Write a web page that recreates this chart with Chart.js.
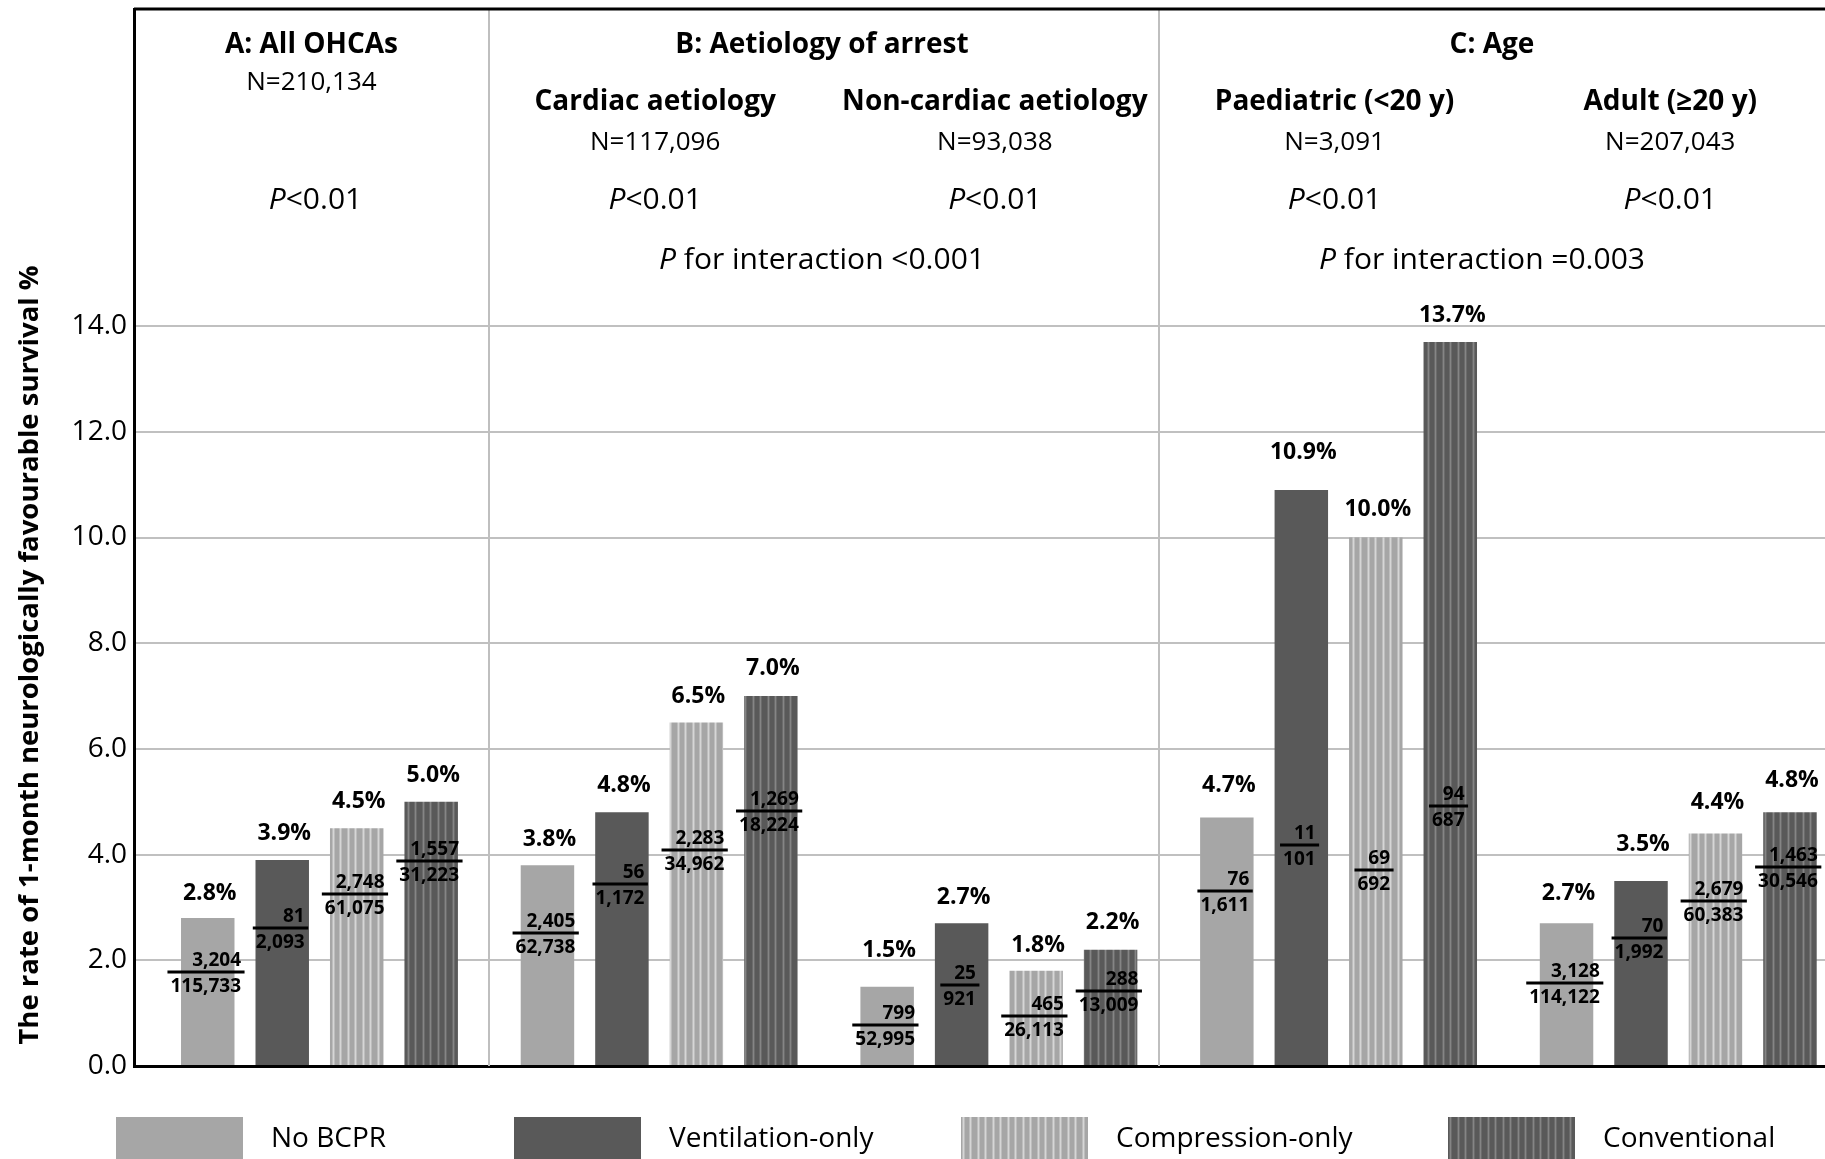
<!DOCTYPE html>
<html lang="en">
<head>
  <meta charset="utf-8" />
  <title>1-month neurologically favourable survival by type of bystander CPR</title>
  <script src="https://cdn.jsdelivr.net/npm/chart.js"></script>
  <style>
    html, body { margin: 0; padding: 0; background: #fff; }
    #wrap { width: 1825px; height: 1159px; }
  </style>
</head>
<body>
  <div id="wrap"><canvas id="bcprChart" width="1825" height="1159"></canvas></div>

  <script>
    // Subgroups along the x axis
    const groups = ['All OHCAs', 'Cardiac aetiology', 'Non-cardiac aetiology', 'Paediatric (<20 y)', 'Adult (\u226520 y)'];
    const seriesNames = ['No BCPR', 'Ventilation-only', 'Compression-only', 'Conventional'];

    // 1-month neurologically favourable survival (%)
    const noBcpr = [2.8, 3.8, 1.5, 4.7, 2.7];
    const ventOnly = [3.9, 4.8, 2.7, 10.9, 3.5];
    const compOnly = [4.5, 6.5, 1.8, 10.0, 4.4];
    const conventional = [5.0, 7.0, 2.2, 13.7, 4.8];

    // survivors / patients in each bar
    const noBcprNum = ['3,204', '2,405', '799', '76', '3,128'];
    const noBcprDen = ['115,733', '62,738', '52,995', '1,611', '114,122'];
    const ventOnlyNum = ['81', '56', '25', '11', '70'];
    const ventOnlyDen = ['2,093', '1,172', '921', '101', '1,992'];
    const compOnlyNum = ['2,748', '2,283', '465', '69', '2,679'];
    const compOnlyDen = ['61,075', '34,962', '26,113', '692', '60,383'];
    const conventionalNum = ['1,557', '1,269', '288', '94', '1,463'];
    const conventionalDen = ['31,223', '18,224', '13,009', '687', '30,546'];

    // header texts
    const sectionTitles = ['A: All OHCAs', 'B: Aetiology of arrest', 'C: Age'];
    const groupN = ['N=210,134', 'N=117,096', 'N=93,038', 'N=3,091', 'N=207,043'];
    const groupP = ['<0.01', '<0.01', '<0.01', '<0.01', '<0.01'];
    const interactionP = ['<0.001', '=0.003'];

    const yTicks = [0, 2, 4, 6, 8, 10, 12, 14];
    const yTitle = 'The rate of 1-month neurologically favourable survival %';

    // where the labels sit, in axis units (as placed in the original figure)
    const pctLabelAt = [
      [3.31, 4.32, 2.23, 5.34, 3.31],
      [4.43, 5.34, 3.22, 11.64, 4.23],
      [5.05, 7.03, 2.31, 10.56, 5.03],
      [5.53, 7.56, 2.76, 14.24, 5.45]
    ];
    const fracLineAt = [
      [1.78, 2.51, 0.77, 3.31, 1.57],
      [2.61, 3.44, 1.54, 4.19, 2.42],
      [3.25, 4.08, 0.95, 3.70, 3.13],
      [3.88, 4.83, 1.41, 4.92, 3.76]
    ];

    Chart.defaults.font.family = "'Open Sans', sans-serif";
    Chart.defaults.color = '#000';

    // vertical stripe fills
    function stripes(base, mid, light) {
      const c = document.createElement('canvas');
      c.width = 15; c.height = 4;
      const g = c.getContext('2d');
      g.fillStyle = base; g.fillRect(0, 0, 15, 4);
      g.fillStyle = mid; g.fillRect(2, 0, 3, 4); g.fillRect(9, 0, 3, 4);
      g.fillStyle = light; g.fillRect(3, 0, 1, 4); g.fillRect(10, 0, 1, 4);
      return g.createPattern(c, 'repeat');
    }

    const fills = [
      '#a6a6a6',
      '#595959',
      stripes('#a6a6a6', '#bdbdbd', '#d6d6d6'),
      stripes('#595959', '#6b6b6b', '#858585')
    ];
    const values = [noBcpr, ventOnly, compOnly, conventional];
    const nums = [noBcprNum, ventOnlyNum, compOnlyNum, conventionalNum];
    const dens = [noBcprDen, ventOnlyDen, compOnlyDen, conventionalDen];

    const sectionBreaks = [0.5, 2.47];
    const legendX = [116, 514, 961, 1448];

    function drawP(ctx, rest, x, y, size) {
      ctx.font = 'italic ' + size + 'px "Open Sans"';
      const wp = ctx.measureText('P').width;
      ctx.font = size + 'px "Open Sans"';
      const wr = ctx.measureText(rest).width;
      const start = x - (wp + wr) / 2;
      ctx.textAlign = 'left';
      ctx.font = 'italic ' + size + 'px "Open Sans"';
      ctx.fillText('P', start, y);
      ctx.font = size + 'px "Open Sans"';
      ctx.fillText(rest, start + wp, y);
    }

    const overlay = {
      id: 'overlay',
      beforeDatasetsDraw(chart) {
        const { ctx, chartArea: a, scales: { x } } = chart;
        ctx.save();
        ctx.strokeStyle = '#bfbfbf';
        ctx.lineWidth = 2;
        sectionBreaks.forEach(v => {
          const px = Math.round(x.getPixelForValue(v));
          ctx.beginPath(); ctx.moveTo(px, a.top); ctx.lineTo(px, a.bottom); ctx.stroke();
        });
        ctx.strokeStyle = '#000';
        ctx.lineWidth = 3;
        ctx.beginPath(); ctx.moveTo(a.left, a.top); ctx.lineTo(a.right, a.top); ctx.stroke();
        ctx.restore();
      },
      afterDatasetsDraw(chart) {
        const { ctx, scales: { y } } = chart;
        ctx.save();
        ctx.fillStyle = '#000';
        ctx.strokeStyle = '#000';
        chart.data.datasets.forEach((ds, i) => {
          chart.getDatasetMeta(i).data.forEach((bar, j) => {
            // percentage
            ctx.font = 'bold 23px "Open Sans"';
            ctx.textAlign = 'center';
            ctx.textBaseline = 'middle';
            ctx.fillText(values[i][j].toFixed(1) + '%', bar.x + 2, y.getPixelForValue(pctLabelAt[i][j]) + 2);
            // survivors / patients
            const ly = Math.round(y.getPixelForValue(fracLineAt[i][j]));
            ctx.font = 'bold 19px "Open Sans"';
            ctx.textBaseline = 'alphabetic';
            const w = ctx.measureText(dens[i][j]).width;
            const tx = bar.x - 2;
            ctx.lineWidth = 3;
            ctx.beginPath(); ctx.moveTo(tx - w / 2 - 3, ly); ctx.lineTo(tx + w / 2 + 3.5, ly); ctx.stroke();
            ctx.textAlign = 'right';
            ctx.fillText(nums[i][j], tx + w / 2, ly - 6);
            ctx.textAlign = 'center';
            ctx.fillText(dens[i][j], tx, ly + 19.5);
          });
        });
        ctx.restore();
      },
      afterDraw(chart) {
        const { ctx, chartArea: a, scales: { x } } = chart;
        ctx.save();
        ctx.fillStyle = '#000';
        ctx.textBaseline = 'middle';
        ctx.textAlign = 'center';
        const b1 = Math.round(x.getPixelForValue(sectionBreaks[0]));
        const b2 = Math.round(x.getPixelForValue(sectionBreaks[1]));
        const secX = [x.getPixelForValue(0) - 8, (b1 + b2) / 2 - 2, (b2 + a.right) / 2];

        ctx.font = 'bold 28px "Open Sans"';
        sectionTitles.forEach((t, k) => ctx.fillText(t, secX[k], 45));

        groups.forEach((g, j) => {
          const cx = x.getPixelForValue(j) - (j === 4 ? 8 : 4);
          if (j === 0) {
            ctx.textAlign = 'center';
            ctx.font = '26px "Open Sans"';
            ctx.fillText(groupN[j], cx - 4, 83);
          } else {
            ctx.textAlign = 'center';
            ctx.font = 'bold 28px "Open Sans"';
            ctx.fillText(g, cx, 102);
            ctx.font = '26px "Open Sans"';
            ctx.fillText(groupN[j], cx, 143);
          }
          drawP(ctx, groupP[j], cx, 200, 30);
        });
        drawP(ctx, ' for interaction ' + interactionP[0], secX[1], 260, 30);
        drawP(ctx, ' for interaction ' + interactionP[1], secX[2] - 10, 260, 30);

        // y axis title
        ctx.save();
        ctx.translate(30, 655);
        ctx.rotate(-Math.PI / 2);
        ctx.textAlign = 'center';
        ctx.font = 'bold 27.5px "Open Sans"';
        ctx.fillText(yTitle, 0, 0);
        ctx.restore();

        // legend
        seriesNames.forEach((name, i) => {
          ctx.fillStyle = fills[i];
          ctx.fillRect(legendX[i], 1117, 127, 43);
          ctx.fillStyle = '#000';
          ctx.textAlign = 'left';
          ctx.font = '28px "Open Sans"';
          ctx.fillText(name, legendX[i] + 155, 1139);
        });
        ctx.restore();
      }
    };

    const ctx = document.getElementById('bcprChart').getContext('2d');
    new Chart(ctx, {
      type: 'bar',
      data: {
        datasets: seriesNames.map((name, i) => ({
          label: name,
          data: values[i].map((v, j) => ({ x: j, y: v })),
          backgroundColor: fills[i],
          borderWidth: 0,
          categoryPercentage: 0.877,
          barPercentage: 0.718
        }))
      },
      options: {
        responsive: false,
        animation: false,
        layout: { padding: { top: 9, right: 0, bottom: 0, left: 0 } },
        plugins: { legend: { display: false }, tooltip: { enabled: false } },
        scales: {
          x: {
            type: 'linear',
            offset: false,
            min: -0.546,
            max: 4.432,
            z: 1,
            ticks: { display: false, stepSize: 1, includeBounds: false },
            grid: { display: false, drawTicks: false, offset: false },
            border: { display: true, color: '#000', width: 3 },
            afterFit(scale) { scale.height = 93; scale.paddingLeft = 0; scale.paddingRight = 0; }
          },
          y: {
            min: 0,
            max: 20,
            ticks: {
              stepSize: 2,
              padding: 7,
              font: { size: 28 },
              color: '#000',
              callback: v => (yTicks.includes(v) ? v.toFixed(1) : null)
            },
            grid: { color: '#c0c0c0', lineWidth: 2, drawTicks: false },
            border: { display: true, color: '#000', width: 3 },
            afterFit(scale) { scale.width = 134; scale.paddingTop = 0; scale.paddingBottom = 0; }
          }
        }
      },
      plugins: [overlay]
    });
  </script>
</body>
</html>
